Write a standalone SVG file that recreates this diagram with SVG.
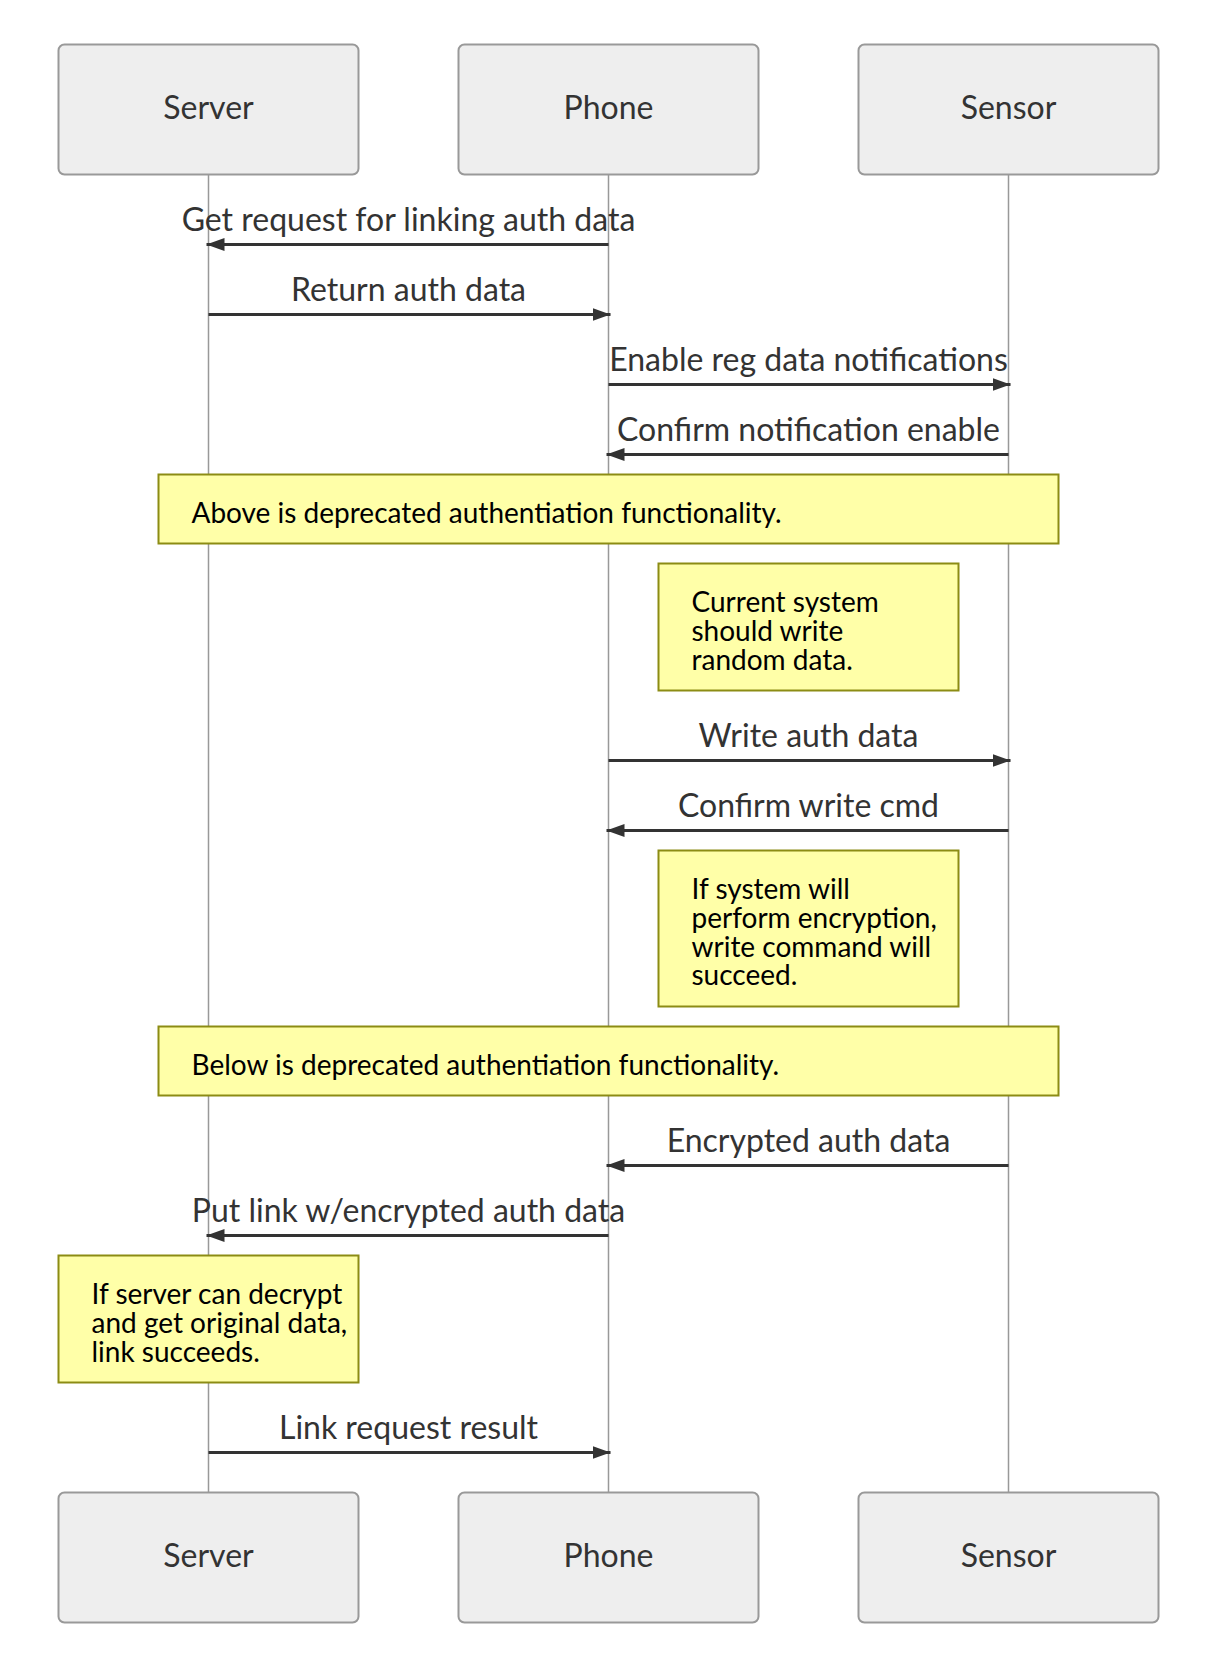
<svg xmlns="http://www.w3.org/2000/svg" width="1220" height="1668" viewBox="0 0 1220 1668">
<style>
  .actor rect { fill: #eeeeee; stroke: #999999; stroke-width: 2; }
  .actor text { font-family: Lato, "Liberation Sans", sans-serif; font-size: 32px; fill: #333333; text-anchor: middle; dominant-baseline: central; }
  .lifeline { stroke: #999999; stroke-width: 1.5; }
  .msg line { stroke: #333333; stroke-width: 3; }
  .msg text { font-family: Lato, "Liberation Sans", sans-serif; font-size: 32px; fill: #333333; text-anchor: middle; }
  .note rect { fill: #ffffa8; stroke: #8c8c14; stroke-width: 2; }
  .note text { font-family: Lato, "Liberation Sans", sans-serif; font-size: 28px; fill: #000000; }
</style>
<defs>
  <marker id="arrow" viewBox="0 0 18 13" refX="18" refY="6.5" markerWidth="18" markerHeight="13" markerUnits="userSpaceOnUse" orient="auto">
    <path d="M0,0 L18,6.5 L0,13 z" fill="#333333"/>
  </marker>
</defs>
<rect width="1220" height="1668" fill="#ffffff"/>

<g id="lifelines">
  <line class="lifeline" x1="208.5" y1="174.5" x2="208.5" y2="1492.5"/>
  <line class="lifeline" x1="608.5" y1="174.5" x2="608.5" y2="1492.5"/>
  <line class="lifeline" x1="1008.5" y1="174.5" x2="1008.5" y2="1492.5"/>
</g>

<g id="actor-server-top" class="actor"><rect x="58.5" y="44.5" width="300" height="130" rx="6"/><text x="208.5" y="106.5">Server</text></g>
<g id="actor-phone-top" class="actor"><rect x="458.5" y="44.5" width="300" height="130" rx="6"/><text x="608.5" y="106.5">Phone</text></g>
<g id="actor-sensor-top" class="actor"><rect x="858.5" y="44.5" width="300" height="130" rx="6"/><text x="1008.5" y="106.5">Sensor</text></g>

<g id="note-above" class="note"><rect x="158.5" y="474.5" width="900" height="69"/><text x="191.5" y="523">Above is deprecated authentiation functionality.</text></g>
<g id="note-current" class="note"><rect x="658.5" y="563.5" width="300" height="127"/><text x="691.5" y="612"><tspan x="691.5">Current system</tspan><tspan x="691.5" dy="28.8">should write</tspan><tspan x="691.5" dy="28.8">random data.</tspan></text></g>
<g id="note-ifsystem" class="note"><rect x="658.5" y="850.5" width="300" height="156"/><text x="691.5" y="899"><tspan x="691.5">If system will</tspan><tspan x="691.5" dy="28.8">perform encryption,</tspan><tspan x="691.5" dy="28.8">write command will</tspan><tspan x="691.5" dy="28.8">succeed.</tspan></text></g>
<g id="note-below" class="note"><rect x="158.5" y="1026.5" width="900" height="69"/><text x="191.5" y="1075">Below is deprecated authentiation functionality.</text></g>
<g id="note-ifserver" class="note"><rect x="58.5" y="1255.5" width="300" height="127"/><text x="91.5" y="1304"><tspan x="91.5">If server can decrypt</tspan><tspan x="91.5" dy="28.8">and get original data,</tspan><tspan x="91.5" dy="28.8">link succeeds.</tspan></text></g>

<g id="connectors" class="msg">
  <line x1="608.5" y1="244.5" x2="206.5" y2="244.5" marker-end="url(#arrow)"/>
  <text x="408.5" y="231">Get request for linking auth data</text>
  <line x1="208.5" y1="314.5" x2="610.5" y2="314.5" marker-end="url(#arrow)"/>
  <text x="408.5" y="301">Return auth data</text>
  <line x1="608.5" y1="384.5" x2="1010.5" y2="384.5" marker-end="url(#arrow)"/>
  <text x="808.5" y="371">Enable reg data notifications</text>
  <line x1="1008.5" y1="454.5" x2="606.5" y2="454.5" marker-end="url(#arrow)"/>
  <text x="808.5" y="441">Confirm notification enable</text>
  <line x1="608.5" y1="760.5" x2="1010.5" y2="760.5" marker-end="url(#arrow)"/>
  <text x="808.5" y="747">Write auth data</text>
  <line x1="1008.5" y1="830.5" x2="606.5" y2="830.5" marker-end="url(#arrow)"/>
  <text x="808.5" y="817">Confirm write cmd</text>
  <line x1="1008.5" y1="1165.5" x2="606.5" y2="1165.5" marker-end="url(#arrow)"/>
  <text x="808.5" y="1152">Encrypted auth data</text>
  <line x1="608.5" y1="1235.5" x2="206.5" y2="1235.5" marker-end="url(#arrow)"/>
  <text x="408.5" y="1222">Put link w/encrypted auth data</text>
  <line x1="208.5" y1="1452.5" x2="610.5" y2="1452.5" marker-end="url(#arrow)"/>
  <text x="408.5" y="1439">Link request result</text>
</g>

<g id="actor-server-bottom" class="actor"><rect x="58.5" y="1492.5" width="300" height="130" rx="6"/><text x="208.5" y="1554.5">Server</text></g>
<g id="actor-phone-bottom" class="actor"><rect x="458.5" y="1492.5" width="300" height="130" rx="6"/><text x="608.5" y="1554.5">Phone</text></g>
<g id="actor-sensor-bottom" class="actor"><rect x="858.5" y="1492.5" width="300" height="130" rx="6"/><text x="1008.5" y="1554.5">Sensor</text></g>
</svg>
